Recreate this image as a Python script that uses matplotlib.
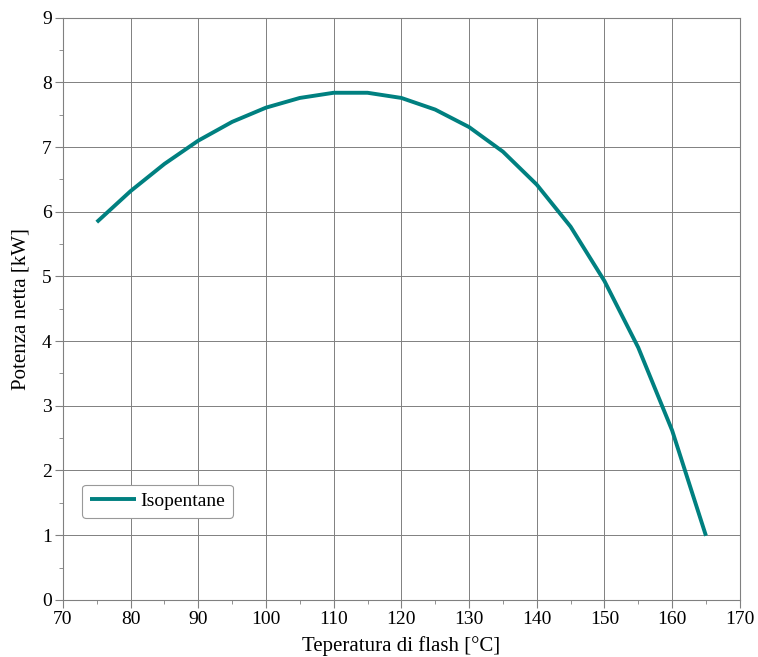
import numpy as np
import matplotlib
matplotlib.use('Agg')
import matplotlib.pyplot as plt
from matplotlib.ticker import MultipleLocator

# Temperature of flash [°C] and net power [kW]
temperature = [75, 80, 85, 90, 95, 100, 105, 110, 115, 120,
               125, 130, 135, 140, 145, 150, 155, 160, 165]
power = [5.84, 6.32, 6.74, 7.10, 7.39, 7.61, 7.76, 7.84, 7.84, 7.76,
         7.58, 7.31, 6.93, 6.42, 5.77, 4.93, 3.90, 2.62, 0.99]

plt.rcParams['font.family'] = ['Liberation Serif', 'DejaVu Serif']

fig = plt.figure(figsize=(7.58, 6.57), dpi=100)
ax = fig.add_axes([0.083, 0.087, 0.893, 0.886])

ax.plot(temperature, power, color='#008080', linewidth=2.8,
        solid_capstyle='butt', label='Isopentane')

ax.set_xlim(70, 170)
ax.set_ylim(0, 9)
ax.xaxis.set_major_locator(MultipleLocator(10))
ax.xaxis.set_minor_locator(MultipleLocator(5))
ax.yaxis.set_major_locator(MultipleLocator(1))
ax.yaxis.set_minor_locator(MultipleLocator(0.5))

ax.grid(True, which='major', color='#808080', linewidth=0.7)
for s in ax.spines.values():
    s.set_color('#808080')
    s.set_linewidth(0.8)
ax.tick_params(which='major', direction='out', length=6, color='#808080',
               labelsize=14, pad=2)
ax.tick_params(which='minor', direction='out', length=3, color='#808080')

ax.set_xlabel('Teperatura di flash [°C]', fontsize=15, labelpad=6)
ax.set_ylabel('Potenza netta [kW]', fontsize=15, labelpad=8)

leg = ax.legend(loc='lower left', bbox_to_anchor=(0.028, 0.141), fontsize=14,
                frameon=True, fancybox=True, handlelength=2.4,
                handletextpad=0.2, borderaxespad=0, borderpad=0.4,
                edgecolor='#999999', framealpha=1)
leg.get_frame().set_linewidth(0.8)

fig.savefig('out.png', dpi=100)
